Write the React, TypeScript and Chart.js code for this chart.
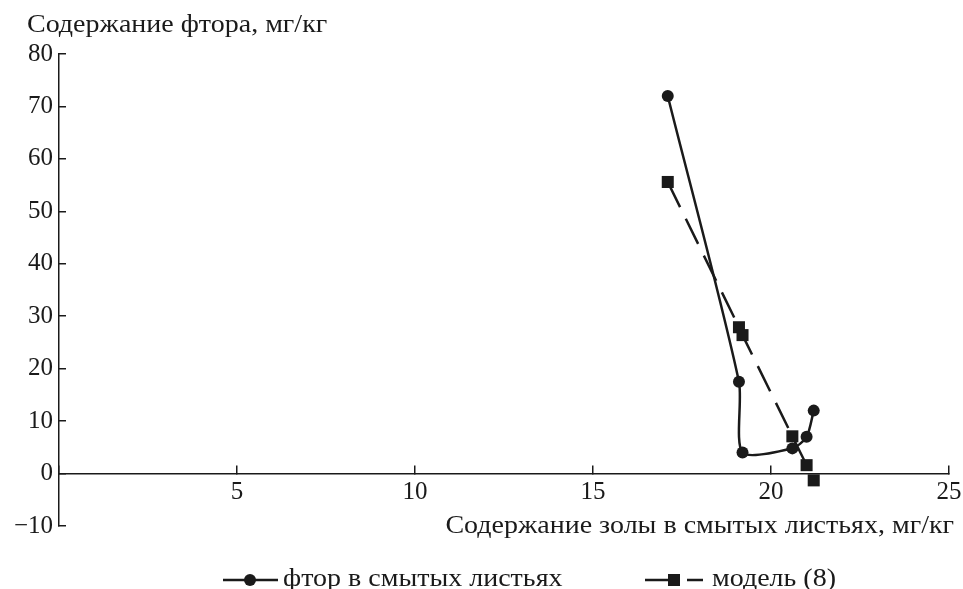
import React, { useEffect, useRef } from "react";
import { Chart, registerables } from "chart.js";

Chart.register(...registerables);

// ---- data ----
const fluorineX = [17.1, 19.1, 19.2, 20.6, 21.0, 21.2];
const fluorineY = [72, 17.5, 4.0, 4.8, 7.0, 12.0];
const modelX = [17.1, 19.1, 19.2, 20.6, 21.0, 21.2];
const modelY = [55.6, 27.9, 26.4, 7.1, 1.6, -1.3];
const xTickValues = [0, 5, 10, 15, 20, 25];
const yTickValues = [-10, 0, 10, 20, 30, 40, 50, 60, 70, 80];
const seriesLabels = ["фтор в смытых листьях", "модель (8)"];
const yAxisTitle = "Содержание фтора, мг/кг";
const xAxisTitle = "Содержание золы в смытых листьях, мг/кг";

const INK = "#1a1a1a";
const FONT_FAMILY = "'Liberation Serif', 'Times New Roman', serif";
const FONT_SIZE = 25;
const TEXT_STRETCH = 1.12;

function stretchedText(
  ctx: CanvasRenderingContext2D,
  text: string,
  x: number,
  y: number,
  align: "left" | "right"
) {
  const w = ctx.measureText(text).width * TEXT_STRETCH;
  const left = align === "left" ? x : x - w;
  ctx.save();
  ctx.translate(left, y);
  ctx.scale(TEXT_STRETCH, 1);
  ctx.textAlign = "left";
  ctx.fillText(text, 0, 0);
  ctx.restore();
}

const annotationsPlugin = {
  id: "annotationsPlugin",
  afterDraw(chart: any) {
    const ctx = chart.ctx as CanvasRenderingContext2D;
    ctx.save();
    ctx.fillStyle = INK;
    ctx.strokeStyle = INK;
    ctx.font = `${FONT_SIZE}px ${FONT_FAMILY}`;
    ctx.textBaseline = "alphabetic";

    // axis titles
    stretchedText(ctx, yAxisTitle, 27, 32, "left");
    stretchedText(ctx, xAxisTitle, chart.chartArea.right + 5, 533, "right");

    // legend
    const ds = chart.data.datasets;
    const ly = 580;
    const ty = 586;
    ctx.lineWidth = 2.5;
    ctx.setLineDash([]);
    // item 1
    ctx.beginPath();
    ctx.moveTo(223, ly);
    ctx.lineTo(278, ly);
    ctx.stroke();
    ctx.beginPath();
    ctx.arc(250, ly, ds[0].pointRadius, 0, Math.PI * 2);
    ctx.fill();
    stretchedText(ctx, ds[0].label, 283, ty, "left");
    // item 2
    ctx.beginPath();
    ctx.moveTo(645, ly);
    ctx.lineTo(670, ly);
    ctx.moveTo(687, ly);
    ctx.lineTo(703, ly);
    ctx.stroke();
    const s = 6;
    ctx.fillRect(674 - s, ly - s, 2 * s, 2 * s);
    stretchedText(ctx, ds[1].label, 712, ty, "left");
    ctx.restore();
  },
};

export default function App() {
  const canvasRef = useRef<HTMLCanvasElement | null>(null);

  useEffect(() => {
    document.body.style.margin = "0";
    const canvas = canvasRef.current;
    if (!canvas) return;

    const fluorinePts = fluorineX.map((x, i) => ({ x, y: fluorineY[i] }));
    const modelPts = modelX.map((x, i) => ({ x, y: modelY[i] }));

    const gridCommon = {
      drawOnChartArea: false,
      drawTicks: true,
      color: INK,
      lineWidth: 1.5,
    };
    const borderCommon = { display: true, color: INK, width: 1.5 };

    const chart = new Chart(canvas, {
      type: "scatter",
      data: {
        datasets: [
          {
            label: seriesLabels[0],
            data: fluorinePts,
            showLine: true,
            borderColor: INK,
            backgroundColor: INK,
            borderWidth: 2.5,
            tension: 0.25,
            pointStyle: "circle",
            pointRadius: 6,
            pointBorderWidth: 0,
            pointBackgroundColor: INK,
          },
          {
            label: seriesLabels[1],
            data: modelPts,
            showLine: true,
            borderColor: INK,
            backgroundColor: INK,
            borderWidth: 2.5,
            borderDash: [28, 13],
            tension: 0,
            pointStyle: "rect",
            pointRadius: 8.5,
            pointBorderWidth: 0,
            pointBackgroundColor: INK,
          },
        ],
      },
      options: {
        responsive: false,
        animation: false,
        devicePixelRatio: 1,
        layout: { padding: { left: 0, right: 14, top: 54, bottom: 63 } },
        plugins: {
          legend: { display: false },
          tooltip: { enabled: false },
          title: { display: false },
        },
        scales: {
          x: {
            type: "linear",
            min: 0,
            max: 25,
            position: { y: 0 },
            afterBuildTicks: (scale: any) => {
              scale.ticks = xTickValues.map((v) => ({ value: v }));
            },
            afterFit: (scale: any) => {
              scale.paddingLeft = 0;
              scale.paddingRight = 0;
            },
            ticks: {
              color: INK,
              padding: 13,
              maxRotation: 0,
              autoSkip: false,
              font: { family: FONT_FAMILY, size: FONT_SIZE },
              callback: (v: any) => (Number(v) === 0 ? "" : String(v)),
            },
            grid: { ...gridCommon, tickLength: -9 },
            border: borderCommon,
          },
          y: {
            type: "linear",
            min: -10,
            max: 80,
            position: "left",
            afterBuildTicks: (scale: any) => {
              scale.ticks = yTickValues.map((v) => ({ value: v }));
            },
            afterFit: (scale: any) => {
              scale.width = 59;
            },
            ticks: {
              color: INK,
              padding: 13,
              autoSkip: false,
              font: { family: FONT_FAMILY, size: FONT_SIZE },
              callback: (v: any) =>
                Number(v) < 0 ? "\u2212" + Math.abs(Number(v)) : String(v),
            },
            grid: { ...gridCommon, tickLength: -7 },
            border: borderCommon,
          },
        },
      },
      plugins: [annotationsPlugin],
    } as any);

    return () => chart.destroy();
  }, []);

  return (
    <div style={{ width: 963, height: 589, position: "relative", background: "#fff" }}>
      <canvas ref={canvasRef} width={963} height={589} />
    </div>
  );
}
